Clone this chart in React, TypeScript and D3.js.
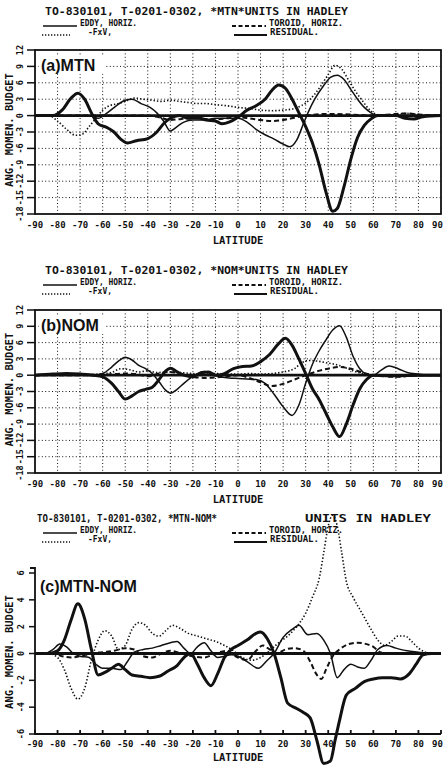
import React from "react";
import * as d3 from "d3";

type Pt = [number, number];

// ---- data (latitude, value) ----
const latTicks = d3.range(-90, 91, 10);
const abTicks = [12, 9, 6, 3, 0, -3, -6, -9, -12, -15, -18];
const cTicks = [6, 4, 2, 0, -2, -4, -6];

// (a) MTN
const aEddy: Pt[] = [[-90,0],[-66,0],[-62,-0.5],[-58,0.5],[-54,1.8],[-50,2.8],[-47,3],[-43,2.2],[-39,1.5],[-36,0.5],[-33,-1],[-30,-2.8],[-27,-2],[-24,-1.2],[-20,-0.8],[-15,-0.8],[-10,-0.5],[-5,-0.5],[0,-0.5],[4,-1.2],[8,-2.5],[12,-3.5],[16,-4.3],[20,-5.2],[23,-5.7],[26,-4.5],[29,-1.5],[31,0.5],[34,3],[38,5.5],[41,7],[44,7.4],[47,6.6],[50,4.8],[53,3],[56,1.5],[59,0.5],[62,0],[90,0]];
const aFxV: Pt[] = [[-90,0],[-84,0],[-80,-1],[-76,-2.5],[-72,-3.6],[-69,-3.4],[-66,-2],[-63,-0.5],[-60,1],[-57,1.8],[-53,2.2],[-50,2.6],[-46,3.2],[-42,3],[-38,2.8],[-34,2.6],[-30,2.8],[-26,2.6],[-22,2.4],[-18,2.2],[-14,2.2],[-10,2],[-5,1.8],[0,1.5],[5,1.3],[10,1],[15,0.9],[20,1],[25,1.3],[28,1.8],[32,3],[36,5],[40,7.5],[43,9.2],[46,8.5],[49,6.5],[52,4.5],[55,2.8],[58,1.2],[61,0.3],[64,0],[70,0.2],[75,0.4],[80,0.2],[85,0],[90,0]];
const aToroid: Pt[] = [[-90,0],[-40,0],[-35,-0.3],[-30,-0.8],[-25,-0.6],[-20,-0.5],[-15,-0.6],[-10,-0.7],[-5,-0.5],[0,-0.3],[5,-0.5],[10,-0.8],[15,-1],[20,-0.8],[25,-0.4],[30,0],[40,0.3],[50,0.2],[60,0],[70,0.3],[75,0.4],[80,0.2],[90,0]];
const aResidual: Pt[] = [[-90,0],[-82,0],[-78,1],[-74,3.2],[-71,4.1],[-68,3],[-65,0.5],[-62,-1.5],[-58,-2.2],[-55,-3],[-52,-4.3],[-49,-5],[-45,-4.6],[-40,-4.2],[-36,-3],[-33,-1.5],[-30,-0.5],[-26,0],[-22,-0.5],[-18,-0.4],[-14,-0.8],[-10,-1],[-7,-1.5],[-4,-1.2],[0,-0.3],[4,1],[8,1.8],[12,3],[15,4.6],[18,5.6],[21,5],[24,3],[27,0.5],[30,-2],[33,-5],[36,-9],[39,-14],[42,-17.5],[44,-17],[47,-13],[50,-8],[53,-4],[56,-1.8],[59,-0.6],[62,0],[70,0],[74,-0.5],[78,-0.6],[82,-0.2],[90,0]];

// (b) NOM
const bEddy: Pt[] = [[-90,0],[-64,0],[-60,0.3],[-56,1.5],[-53,2.6],[-50,3.3],[-47,2.8],[-44,1.8],[-41,1.2],[-38,0.3],[-35,-1.2],[-32,-2.8],[-30,-3.3],[-27,-2.6],[-24,-1.5],[-21,-0.5],[-18,0.3],[-15,0.7],[-12,0.3],[-8,-0.3],[-4,-0.5],[0,-0.6],[4,-0.7],[8,-0.8],[12,-1.5],[16,-3.5],[20,-5.8],[24,-7.4],[27,-5.5],[30,-1.5],[33,2],[36,4.5],[39,6.5],[42,8.3],[45,9.1],[48,7],[51,3.5],[54,1.2],[57,0.2],[60,0],[63,0.8],[67,1.7],[71,1.2],[75,0.5],[80,0.2],[85,0],[90,0]];
const bFxV: Pt[] = [[-90,0],[-70,0],[-62,0.2],[-56,0.5],[-52,1.2],[-48,1],[-44,0.6],[-40,0.8],[-36,0.5],[-30,0.6],[-26,0.5],[-20,0.3],[-15,0.2],[-10,0.3],[-5,0.2],[0,0.2],[5,0.3],[10,0.2],[15,0.3],[20,0.6],[25,1.2],[28,2.2],[31,2.7],[35,2.6],[39,2.3],[43,2],[47,1.5],[51,0.8],[55,0.3],[60,0],[65,-0.2],[70,-0.3],[75,-0.1],[80,0],[90,0]];
const bToroid: Pt[] = [[-90,0],[-60,0],[-55,0.2],[-50,0.3],[-45,0.2],[-40,-0.2],[-35,0.3],[-30,0.6],[-25,0.2],[-20,-0.3],[-15,-0.5],[-10,-0.4],[-5,-0.2],[0,0],[5,-0.5],[10,-1.3],[15,-2],[20,-1.6],[25,-0.8],[30,0],[35,0.7],[40,1.2],[45,1.5],[50,1.2],[55,0.5],[60,0],[65,-0.2],[70,-0.3],[80,0],[90,0]];
const bResidual: Pt[] = [[-90,0],[-82,0.2],[-76,0.3],[-70,0.2],[-64,0],[-60,-0.3],[-56,-1.5],[-53,-3],[-50,-4.4],[-47,-3.8],[-44,-3],[-41,-2.6],[-38,-2.2],[-35,-0.8],[-32,0.8],[-30,1.3],[-27,0.6],[-24,0],[-20,-0.3],[-16,0.5],[-13,0.6],[-10,0],[-6,0.3],[-2,1.2],[2,1.6],[6,1.7],[10,2.5],[14,3.8],[18,5.8],[21,6.8],[24,5.5],[27,3],[30,0.3],[33,-2.5],[36,-4.5],[39,-7],[42,-9.5],[45,-11.3],[48,-9],[51,-5.5],[54,-2.5],[57,-0.8],[60,0],[70,-0.1],[80,0],[90,0]];

// (c) MTN-NOM
const cEddy: Pt[] = [[-90,0],[-86,0],[-82,0.3],[-79,0.7],[-76,0.5],[-73,0],[-70,-0.2],[-66,-0.3],[-63,-0.8],[-60,-1.1],[-56,-1.1],[-52,-1.2],[-49,-0.6],[-46,0.1],[-42,0.3],[-38,0.4],[-34,0.6],[-30,0.8],[-27,0.9],[-24,0.4],[-21,0],[-18,0.5],[-15,0.8],[-12,0.2],[-9,-0.3],[-6,-0.2],[-3,-0.1],[0,-0.2],[4,-0.6],[9,-1.1],[13,-0.5],[16,0],[20,1.2],[24,1.8],[27,2.1],[31,1.4],[35,1.5],[38,1],[41,0],[44,-1.8],[47,-1.2],[50,-0.8],[53,-1],[56,-1.1],[59,-0.5],[62,0.3],[66,0.6],[70,0.4],[75,0.2],[80,0.1],[85,0],[90,0]];
const cFxV: Pt[] = [[-90,0],[-84,0],[-80,-0.3],[-77,-1.2],[-74,-2.6],[-71,-3.4],[-68,-2.6],[-65,-0.5],[-62,1],[-59,1.7],[-56,1.3],[-53,0.3],[-50,0.6],[-47,1.8],[-44,2.3],[-41,2.1],[-38,1.5],[-35,1.3],[-32,1.7],[-29,2.1],[-26,1.9],[-22,1.5],[-18,1.3],[-14,1.1],[-10,0.9],[-6,0.6],[-2,0.2],[2,-0.3],[6,-0.5],[10,-0.3],[14,0.2],[18,0.8],[22,1.3],[26,2],[30,3],[33,4.2],[36,5.6],[38,7.5],[40,9.5],[42,10.3],[44,9.5],[46,7.5],[48,5.4],[51,4.2],[55,3],[59,1.8],[62,1],[65,0.6],[68,0.9],[71,1.3],[74,1.3],[77,0.9],[80,0.4],[83,0.1],[86,0],[90,0]];
const cToroid: Pt[] = [[-90,0],[-82,0],[-78,-0.2],[-74,-0.3],[-70,-0.2],[-65,0],[-60,0.1],[-55,0.2],[-50,0.4],[-46,0.3],[-42,-0.2],[-38,-0.3],[-34,0],[-30,0.2],[-25,0],[-20,-0.2],[-15,-0.3],[-10,0],[-5,0.2],[0,-0.3],[4,-0.5],[8,0.2],[11,0.6],[14,0.3],[17,0],[21,0.3],[25,0.4],[29,0.2],[32,-0.6],[35,-1.6],[37,-1.9],[39,-1.2],[42,-0.2],[45,0.3],[49,0.7],[53,0.8],[57,0.7],[60,0.5],[63,0.1],[66,0],[90,0]];
const cResidual: Pt[] = [[-90,0],[-84,0],[-80,0.2],[-77,1],[-74,2.5],[-71,3.7],[-68,2.6],[-65,0.3],[-62,-1.6],[-59,-1.4],[-56,-1.1],[-53,-0.8],[-50,-1.2],[-47,-1.6],[-43,-1.7],[-39,-1.8],[-35,-1.7],[-31,-1.3],[-27,-0.9],[-24,-0.3],[-21,0],[-18,-0.8],[-15,-1.8],[-12,-2.4],[-9,-1.5],[-6,-0.3],[-3,0.3],[0,0.6],[4,1],[8,1.5],[10,1.6],[13,1.1],[16,0],[19,-1.8],[22,-3.7],[26,-4.1],[29,-4.4],[32,-4.8],[35,-6.5],[38,-8.2],[41,-8],[43,-6.5],[45,-5],[48,-3.1],[52,-2.6],[56,-2.1],[60,-1.9],[64,-1.8],[68,-1.8],[72,-1.9],[76,-1.5],[79,-0.8],[82,-0.1],[86,0],[90,0]];

const FONT = "'DejaVu Sans Mono', monospace";
const x = d3.scaleLinear().domain([-90, 90]).range([35, 441]);

const seriesStyle = {
  eddy: { w: 1.5, dash: undefined as string | undefined },
  fxv: { w: 1.6, dash: "1.4 2" },
  toroid: { w: 2, dash: "5 3" },
  residual: { w: 3, dash: undefined as string | undefined },
};

// legend / header text, stretched to the widths of the plotter lettering
function Header({ y, tag, split }: { y: number; tag: string; split?: boolean }) {
  const r1 = y + 11;
  const r2 = y + 20;
  return (
    <g fontFamily={FONT} fontWeight="bold" fill="#111">
      <g fontSize={9.6}>
        {split ? (
          <>
            <text x={37} y={y} textLength={180} lengthAdjust="spacingAndGlyphs">{`TO-830101, T-0201-0302, *${tag}*`}</text>
            <text x={305} y={y} textLength={126} lengthAdjust="spacingAndGlyphs">UNITS IN HADLEY</text>
          </>
        ) : (
          <text x={45} y={y} textLength={303} lengthAdjust="spacingAndGlyphs">{`TO-830101, T-0201-0302, *${tag}*UNITS IN HADLEY`}</text>
        )}
      </g>
      <g fontSize={8.4}>
        <line x1={43} x2={77} y1={r1} y2={r1} stroke="#111" strokeWidth={1.4} />
        <text x={80} y={r1} textLength={57} lengthAdjust="spacingAndGlyphs">EDDY, HORIZ.</text>
        <line x1={232} x2={266} y1={r1} y2={r1} stroke="#111" strokeWidth={1.8} strokeDasharray="4 2.5" />
        <text x={269} y={r1} textLength={74} lengthAdjust="spacingAndGlyphs">TOROID, HORIZ.</text>
        <line x1={42} x2={70} y1={r2} y2={r2} stroke="#111" strokeWidth={1.5} strokeDasharray="1.3 1.7" />
        <text x={88} y={r2} textLength={24} lengthAdjust="spacingAndGlyphs">-FxV,</text>
        <line x1={234} x2={267} y1={r2} y2={r2} stroke="#111" strokeWidth={2} />
        <text x={270} y={r2} textLength={49} lengthAdjust="spacingAndGlyphs">RESIDUAL.</text>
      </g>
    </g>
  );
}

function Curves({ y, eddy, fxv, toroid, residual }: { y: d3.ScaleLinear<number, number>; eddy: Pt[]; fxv: Pt[]; toroid: Pt[]; residual: Pt[] }) {
  const line = d3.line<Pt>().x((d) => x(d[0])).y((d) => y(d[1])).curve(d3.curveMonotoneX);
  const list: [Pt[], { w: number; dash?: string }][] = [
    [fxv, seriesStyle.fxv],
    [toroid, seriesStyle.toroid],
    [eddy, seriesStyle.eddy],
    [residual, seriesStyle.residual],
  ];
  return (
    <g fill="none" stroke="#111" strokeLinejoin="round">
      <line x1={x(-90)} x2={x(90)} y1={y(0)} y2={y(0)} strokeWidth={2.8} />
      {list.map(([d, s], i) => (
        <path key={i} d={line(d) || ""} strokeWidth={s.w} strokeDasharray={s.dash} />
      ))}
    </g>
  );
}

function YLabel({ cy }: { cy: number }) {
  return (
    <text transform={`translate(13,${cy}) rotate(-90)`} textAnchor="middle" fontFamily={FONT} fontWeight="bold" fontSize={10.5} fill="#111">
      ANG. MOMEN. BUDGET
    </text>
  );
}

function XTicks({ yb, dl, dt }: { yb: number; dl: number; dt: number }) {
  return (
    <g fontFamily={FONT} fontWeight="bold" fontSize={9} fill="#111" textAnchor="middle">
      {latTicks.map((t) => (
        <text key={t} x={t === 90 ? 432 : x(t)} y={yb + dl} textAnchor={t === 90 ? "start" : "middle"}>{t}</text>
      ))}
      <text x={238} y={yb + dt} fontSize={10.5}>LATITUDE</text>
    </g>
  );
}

function BoxPanel({ top, bottom, label, tag, headerY, eddy, fxv, toroid, residual }: any) {
  const y = d3.scaleLinear().domain([-18, 12]).range([bottom, top]);
  return (
    <g>
      <Header y={headerY} tag={tag} />
      <g stroke="#111" strokeWidth={1} strokeDasharray="1 2.4">
        {latTicks.slice(1, -1).map((t) => (
          <line key={t} x1={x(t)} x2={x(t)} y1={top} y2={bottom} />
        ))}
        {abTicks.slice(1, -1).map((t) => (
          <line key={t} x1={x(-90)} x2={x(90)} y1={y(t)} y2={y(t)} />
        ))}
      </g>
      <rect x={39} y={top + 6} width={66} height={18} fill="#fff" />
      <text x={41} y={top + 21} fontFamily="'Liberation Sans', Arial, sans-serif" fontWeight="bold" fontSize={16} fill="#111">
        {label}
      </text>
      <Curves y={y} eddy={eddy} fxv={fxv} toroid={toroid} residual={residual} />
      <rect x={x(-90)} y={top} width={x(90) - x(-90)} height={bottom - top} fill="none" stroke="#111" strokeWidth={1.8} />
      <g fontFamily={FONT} fontWeight="bold" fontSize={8.5} fill="#111">
        {abTicks.map((t) => (
          <g key={t}>
            <line x1={27} x2={35} y1={y(t)} y2={y(t)} stroke="#111" strokeWidth={1.5} />
            <text transform={`translate(23,${y(t)}) rotate(-90)`} textAnchor="middle">{t}</text>
          </g>
        ))}
      </g>
      <YLabel cy={(top + bottom) / 2 - 2} />
      <XTicks yb={bottom} dl={14} dt={30} />
    </g>
  );
}

export default function App() {
  const yc = d3.scaleLinear().domain([-6, 6]).range([734, 573]);
  return (
    <svg width={444} height={767} viewBox="0 0 444 767" style={{ position: "absolute", left: 0, top: 0, background: "#fff" }}>
      <rect width={444} height={767} fill="#fff" />
      <BoxPanel top={50} bottom={214} label="(a)MTN" tag="MTN" headerY={15} eddy={aEddy} fxv={aFxV} toroid={aToroid} residual={aResidual} />
      <BoxPanel top={310} bottom={473} label="(b)NOM" tag="NOM" headerY={274} eddy={bEddy} fxv={bFxV} toroid={bToroid} residual={bResidual} />
      <g>
        <Header y={522} tag="MTN-NOM" split />
        <text x={40} y={592} fontFamily="'Liberation Sans', Arial, sans-serif" fontWeight="bold" fontSize={16} fill="#111">(c)MTN-NOM</text>
        <Curves y={yc} eddy={cEddy} fxv={cFxV} toroid={cToroid} residual={cResidual} />
        <g stroke="#111" strokeWidth={1.8} fill="none">
          <polyline points={`30,568 35,568 35,734 ${x(90)},734`} />
          {latTicks.map((t) => (
            <line key={t} x1={x(t)} x2={x(t)} y1={734} y2={730} />
          ))}
        </g>
        <g fontFamily={FONT} fontWeight="bold" fontSize={8.5} fill="#111">
          {cTicks.map((t) => (
            <g key={t}>
              <line x1={29} x2={35} y1={yc(t)} y2={yc(t)} stroke="#111" strokeWidth={1.5} />
              <text transform={`translate(24,${yc(t)}) rotate(-90)`} textAnchor="middle">{t}</text>
            </g>
          ))}
        </g>
        <YLabel cy={652} />
        <XTicks yb={734} dl={13} dt={27} />
      </g>
    </svg>
  );
}
